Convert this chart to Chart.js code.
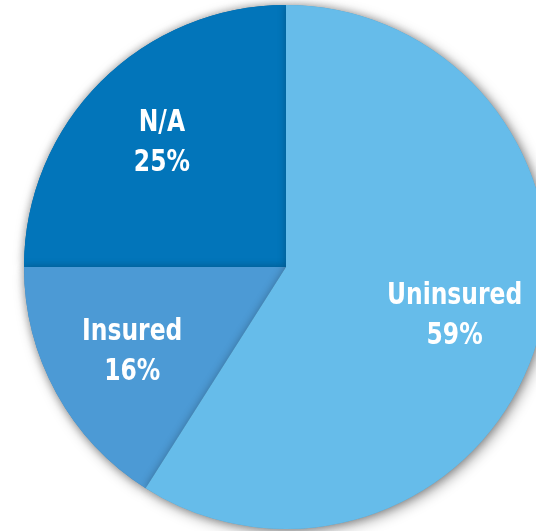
<!DOCTYPE html>
<html>
<head>
<meta charset="utf-8">
<script src="https://cdn.jsdelivr.net/npm/chart.js@4"></script>
<style>
  html, body { margin: 0; padding: 0; background: #fff; overflow: hidden; }
  #wrap { position: relative; width: 572px; height: 531px; }
</style>
</head>
<body>
<div id="wrap"><canvas id="pie"></canvas></div>
<script>
'use strict';

// data
const labels = ['Uninsured', 'Insured', 'N/A'];
const shares = [59, 16, 25];
const sliceColors = ['#66bcea', '#4c9ad5', '#0275ba'];

const LABEL_FONT = 'bold 31px "DejaVu Sans Condensed", "DejaVu Sans", sans-serif';
const TEXT_SCALE_X = 0.84;   // narrow the glyphs, like a condensed face

// draw slices last-to-first, each with a soft shadow
const shadowSlices = {
    id: 'shadowSlices',
    beforeDatasetDraw(chart, args) {
        const ctx = chart.ctx;
        const arcs = args.meta.data;
        ctx.save();
        ctx.shadowColor = 'rgba(0, 0, 0, 0.4)';
        ctx.shadowBlur = 14;
        ctx.shadowOffsetX = 3;
        ctx.shadowOffsetY = 3;
        // outer drop shadow
        arcs.forEach(a => a.draw(ctx));
        ctx.shadowOffsetX = 0;
        ctx.shadowOffsetY = 0;
        ctx.shadowBlur = 9;
        ctx.shadowColor = 'rgba(0, 0, 0, 0.28)';
        for (let i = arcs.length - 1; i >= 0; i--) arcs[i].draw(ctx);
        ctx.restore();
        return false;
    },
};

// labels inside the slices
const sliceLabels = {
    id: 'sliceLabels',
    afterDatasetsDraw(chart) {
        const ctx = chart.ctx;
        const arcs = chart.getDatasetMeta(0).data;
        arcs.forEach((arc, i) => {
            const p = arc.getProps(['x', 'y', 'startAngle', 'endAngle', 'outerRadius']);
            const mid = (p.startAngle + p.endAngle) / 2;
            const r = p.outerRadius * 0.67;
            const x = p.x + Math.cos(mid) * r;
            const y = p.y + Math.sin(mid) * r;
            ctx.save();
            ctx.translate(x, y);
            ctx.scale(TEXT_SCALE_X, 1);
            ctx.font = LABEL_FONT;
            ctx.fillStyle = '#ffffff';
            ctx.textAlign = 'center';
            ctx.textBaseline = 'middle';
            ctx.fillText(labels[i], 0, -20);
            ctx.fillText(shares[i] + '%', 0, 20);
            ctx.restore();
        });
    },
};

new Chart(document.getElementById('pie'), {
    type: 'pie',
    data: {
        labels,
        datasets: [{
            data: shares,
            backgroundColor: sliceColors,
            borderWidth: 0,
            hoverOffset: 0,
        }],
    },
    options: {
        responsive: true,
        maintainAspectRatio: false,
        animation: false,
        layout: { padding: { top: 5, bottom: 2, left: 0, right: 0 } },
        plugins: {
            legend: { display: false },
            tooltip: { enabled: false },
        },
        events: [],
    },
    plugins: [shadowSlices, sliceLabels],
});
</script>
</body>
</html>
